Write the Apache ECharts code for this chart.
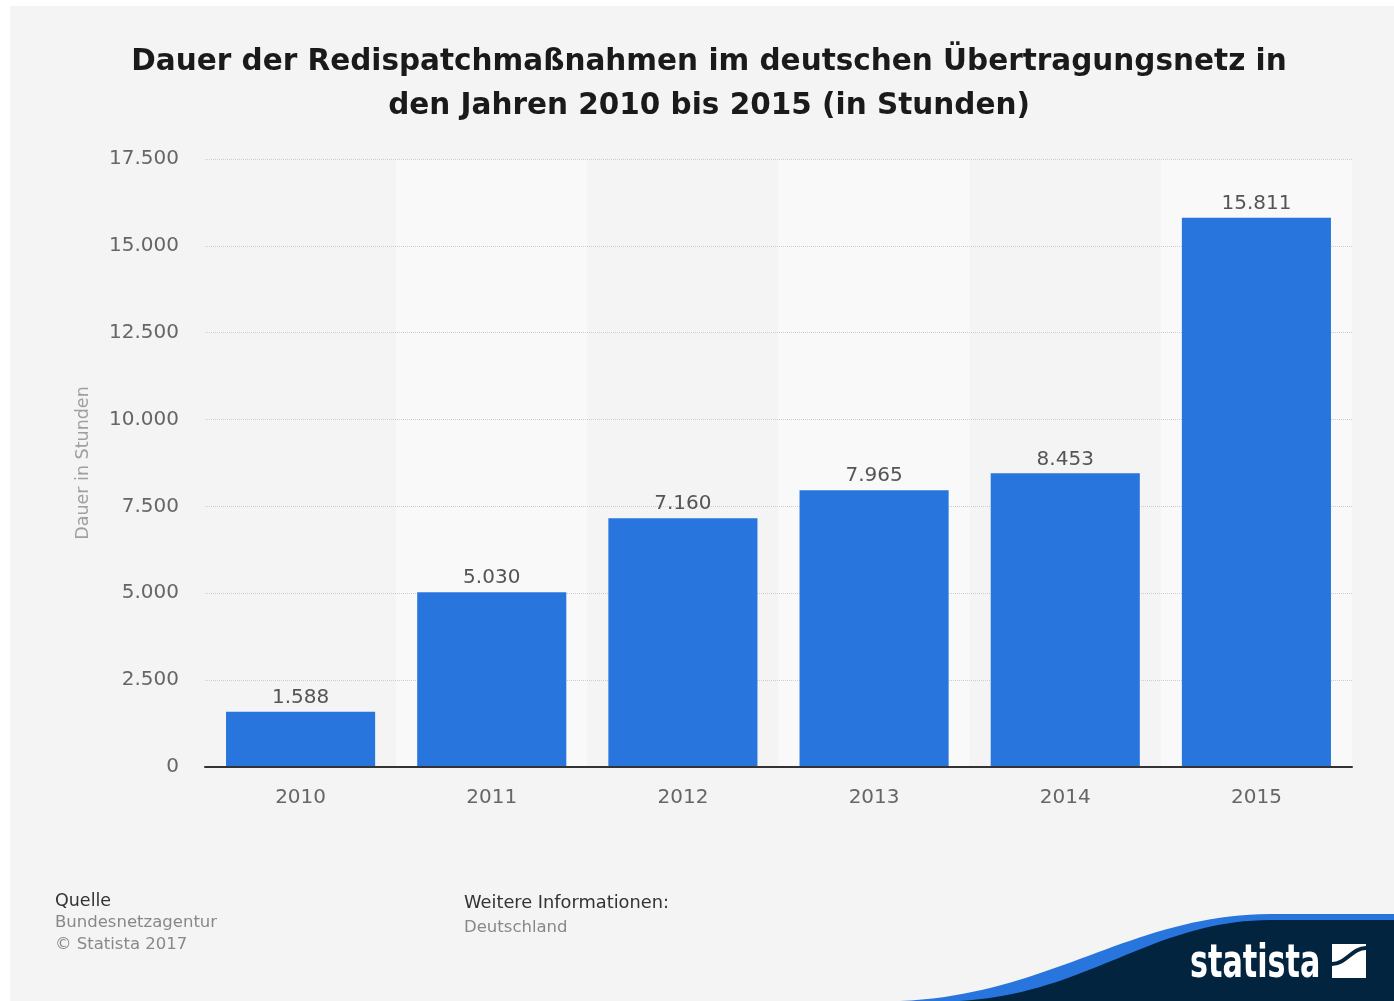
<!DOCTYPE html>
<html>
<head>
<meta charset="utf-8">
<script src="https://cdn.jsdelivr.net/npm/echarts@6/dist/echarts.min.js"></script>
<style>
html,body{margin:0;padding:0;background:#fff;}
#chartDiv{position:absolute;left:10px;top:6px;width:1384px;height:995px;}
</style>
</head>
<body>
<div id="chartDiv"></div>
<script>
var years = ['2010', '2011', '2012', '2013', '2014', '2015'];
var hours = [1588, 5030, 7160, 7965, 8453, 15811];
var yTicks = {min: 0, max: 17500, step: 2500};

function fmt(v) {
	return String(v).replace(/\B(?=(\d{3})+(?!\d))/g, '.');
}

// logo wave outline: cubic curve sampled into polygon points
function wave(x0, y0, c1x, c1y, c2x, c2y, x1, y1, right, bottom) {
	var pts = [];
	for (var i = 0; i <= 40; i++) {
		var t = i / 40, u = 1 - t;
		pts.push([
			u*u*u*x0 + 3*u*u*t*c1x + 3*u*t*t*c2x + t*t*t*x1,
			u*u*u*y0 + 3*u*u*t*c1y + 3*u*t*t*c2y + t*t*t*y1
		]);
	}
	pts.push([right, y1], [right, bottom]);
	return pts;
}

var chart = echarts.init(document.getElementById('chartDiv'));
var option = {
	backgroundColor: '#f4f4f4',
	animation: false,
	title: {
		text: 'Dauer der Redispatchmaßnahmen im deutschen Übertragungsnetz in\nden Jahren 2010 bis 2015 (in Stunden)',
		left: 699,
		top: 34,
		textAlign: 'center',
		padding: 0,
		textStyle: {
			fontFamily: 'DejaVu Sans',
			fontWeight: 'bold',
			fontSize: 29.5,
			lineHeight: 44,
			color: '#1a1a1a'
		}
	},
	grid: {
		left: 195,
		right: 42,
		top: 153,
		bottom: 234
	},
	xAxis: [
		{
			type: 'category',
			data: years,
			z: 0,
			axisTick: {show: false},
			axisLine: {show: false},
			axisLabel: {
				margin: 21,
				fontFamily: 'DejaVu Sans',
				fontSize: 20,
				color: '#666'
			},
			splitArea: {
				show: true,
				areaStyle: {color: ['#f4f4f4', '#f9f9f9']}
			}
		},
		{
			// baseline drawn above the bars
			type: 'category',
			data: years,
			position: 'bottom',
			z: 3,
			axisTick: {show: false},
			axisLabel: {show: false},
			axisLine: {lineStyle: {color: '#333', width: 2}}
		}
	],
	yAxis: {
		type: 'value',
		z: 1,
		min: yTicks.min,
		max: yTicks.max,
		interval: yTicks.step,
		name: 'Dauer in Stunden',
		nameLocation: 'middle',
		nameGap: 113,
		nameTextStyle: {
			fontFamily: 'DejaVu Sans',
			fontSize: 17.5,
			color: '#a0a0a0'
		},
		axisLine: {show: false},
		axisTick: {show: false},
		axisLabel: {
			margin: 26,
			padding: [5, 0, 0, 0],
			fontFamily: 'DejaVu Sans',
			fontSize: 20,
			color: '#666',
			formatter: fmt
		},
		splitLine: {
			lineStyle: {color: '#cdcdcd', type: 'dotted', width: 1}
		}
	},
	series: [
		{
			type: 'bar',
			z: 2,
			data: hours,
			barCategoryGap: '22%',
			itemStyle: {color: '#2876dd'},
			label: {
				show: true,
				position: 'top',
				distance: 4,
				fontFamily: 'DejaVu Sans',
				fontSize: 20,
				color: '#555',
				formatter: function (p) { return fmt(p.value); }
			}
		}
	],
	graphic: [
		{type: 'text', x: 45, y: 895, style: {text: 'Quelle', font: '17.5px "DejaVu Sans"', fill: '#333', textVerticalAlign: 'middle'}},
		{type: 'text', x: 45, y: 917, style: {text: 'Bundesnetzagentur', font: '16.5px "DejaVu Sans"', fill: '#888', textVerticalAlign: 'middle'}},
		{type: 'text', x: 45, y: 939, style: {text: '© Statista 2017', font: '16.5px "DejaVu Sans"', fill: '#888', textVerticalAlign: 'middle'}},
		{type: 'text', x: 454, y: 897, style: {text: 'Weitere Informationen:', font: '17.8px "DejaVu Sans"', fill: '#333', textVerticalAlign: 'middle'}},
		{type: 'text', x: 454, y: 922, style: {text: 'Deutschland', font: '16.5px "DejaVu Sans"', fill: '#888', textVerticalAlign: 'middle'}},
		{type: 'polygon', shape: {points: wave(890, 995, 1040, 989, 1120, 909, 1260, 908, 1384, 995)}, style: {fill: '#2876dd'}},
		{type: 'polygon', shape: {points: wave(950, 995, 1080, 987, 1140, 915, 1260, 914, 1384, 995)}, style: {fill: '#03243f'}},
		{type: 'text', x: 1180, y: 982, scaleX: 0.73, style: {text: 'statista', font: 'bold 46px "DejaVu Sans Condensed", "DejaVu Sans", sans-serif', fill: '#fff', textVerticalAlign: 'bottom'}},
		{type: 'rect', shape: {x: 1322, y: 938, width: 34, height: 34}, style: {fill: '#fff'}},
		{type: 'bezierCurve', shape: {x1: 1322, y1: 958, cpx1: 1336, cpy1: 958, cpx2: 1342, cpy2: 942, x2: 1356, y2: 942}, style: {fill: null, stroke: '#03243f', lineWidth: 4}}
	]
};
chart.setOption(option);
</script>
</body>
</html>
